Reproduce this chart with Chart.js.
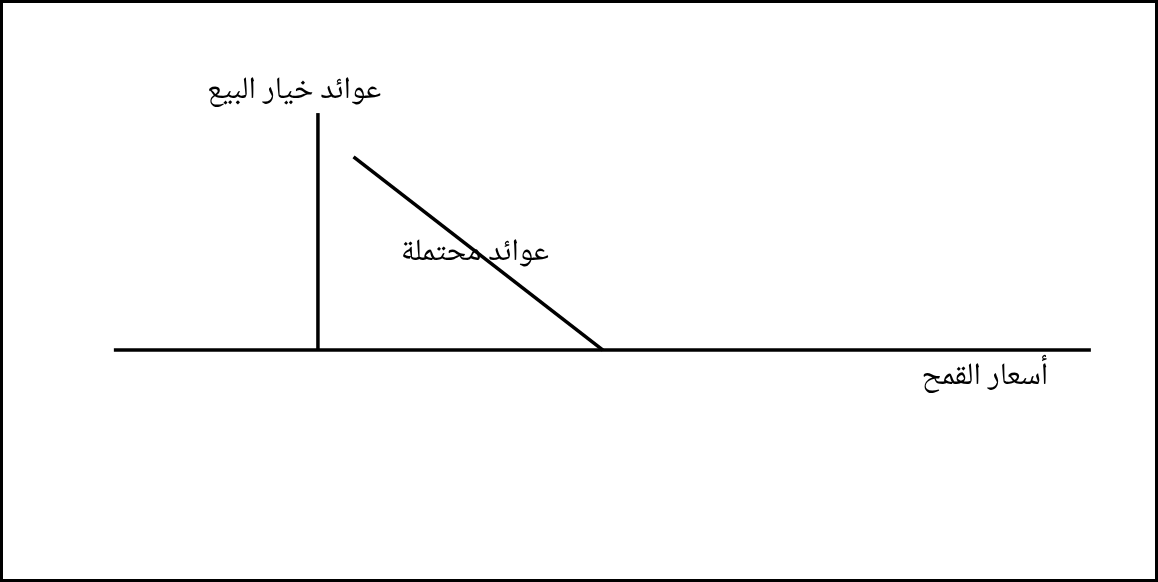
<!DOCTYPE html>
<html>
<head>
<meta charset="utf-8">
<script src="https://cdn.jsdelivr.net/npm/chart.js@4"></script>
<style>
    html, body { margin: 0; padding: 0; background: #ffffff; }
    #frame {
        width: 1158px; height: 582px;
        box-sizing: border-box;
        border: 3px solid #000000;
        background: #ffffff;
    }
    #chart { display: block; }
</style>
</head>
<body>
<div id="frame"><canvas id="chart" width="1152" height="576"></canvas></div>
<script>
// Put option payoff diagram (values in abstract price / payoff units)
const strikePrice = 100;
const axisPrices = [-71.6, 271.2];      // extent of the wheat price axis
const axisPayoffs = [0, 107.4];         // extent of the payoff axis (at price 0)
const payoffPrices = [12.5, 100];       // prices along the payoff line
const payoffValues = [87.5, 0];         // payoff = strike - price

// Texts
const labels = ['عوائد خيار البيع', 'عوائد محتملة', 'أسعار القمح'];

// Where each label sits (in the same units as the scales)
const labelAnchors = [
    { x: -8.4, y: 116 },
    { x: 55.1, y: 42.5 },
    { x: 234, y: -13.5 }
];

const arabicFont = "'Noto Naskh Arabic', 'Amiri', 'Times New Roman', 'DejaVu Serif', 'DejaVu Sans', serif";

const labelPlugin = {
    id: 'labelPlugin',
    afterDatasetsDraw(chart) {
        const ctx = chart.ctx;
        const xs = chart.scales.x, ys = chart.scales.y;
        ctx.save();
        ctx.fillStyle = '#000000';
        ctx.font = '31px ' + arabicFont;
        ctx.textAlign = 'center';
        ctx.textBaseline = 'middle';
        ctx.direction = 'rtl';
        labels.forEach((t, i) => {
            ctx.fillText(t, xs.getPixelForValue(labelAnchors[i].x), ys.getPixelForValue(labelAnchors[i].y));
        });
        ctx.restore();
    }
};

const lineStyle = { borderColor: '#000000', borderWidth: 3.5, pointRadius: 0, showLine: true, fill: false, tension: 0 };

new Chart(document.getElementById('chart').getContext('2d'), {
    type: 'scatter',
    data: {
        datasets: [
            Object.assign({ label: 'price axis', data: axisPrices.map(p => ({ x: p, y: 0 })) }, lineStyle),
            Object.assign({ label: 'payoff axis', data: axisPayoffs.map(v => ({ x: 0, y: v })) }, lineStyle),
            Object.assign({ label: 'payoff', data: payoffPrices.map((p, i) => ({ x: p, y: payoffValues[i] })) }, lineStyle)
        ]
    },
    options: {
        responsive: false,
        animation: false,
        layout: { padding: 0 },
        plugins: { legend: { display: false }, tooltip: { enabled: false } },
        scales: {
            x: { type: 'linear', display: false, min: -110.5, max: 293.7 },
            y: { type: 'linear', display: false, min: -103.8, max: 157.3 }
        }
    },
    plugins: [labelPlugin]
});
</script>
</body>
</html>
